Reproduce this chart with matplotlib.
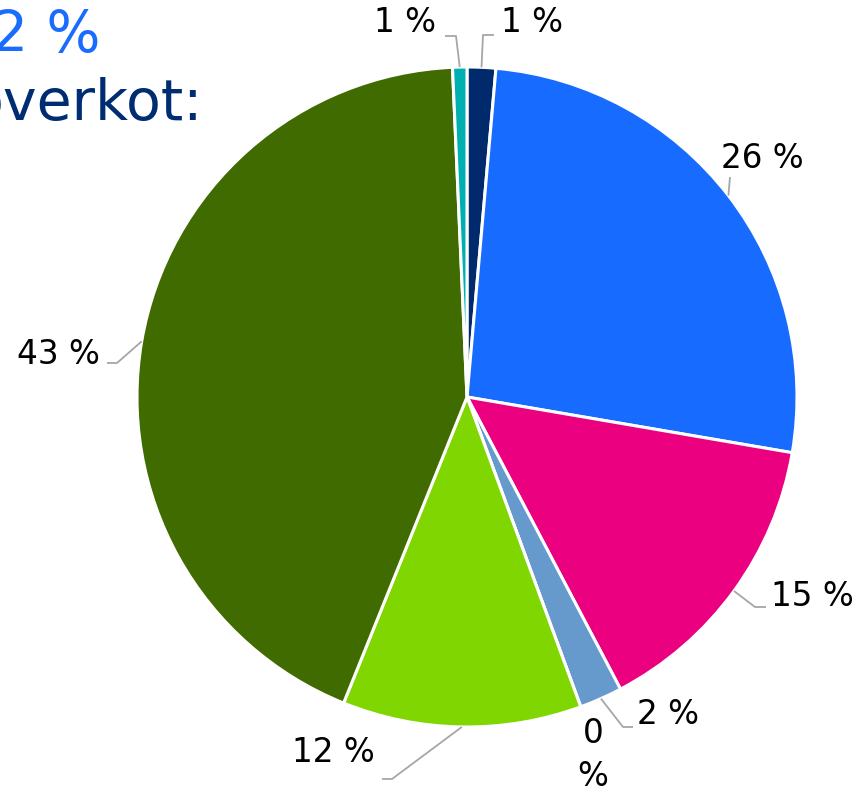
import numpy as np
import matplotlib
matplotlib.use("Agg")
import matplotlib.pyplot as plt

# ---- data ----
values = [1.4, 26.3, 14.6, 2.1, 0.0, 11.7, 43.2, 0.7]
labels = ["1 %", "26 %", "15 %", "2 %", "0\n%", "12 %", "43 %", "1 %"]
colors = ["#002a6c", "#176cff", "#eb0080", "#6699cc", "#d0d0d0",
          "#80d600", "#3f6b00", "#00b0b0"]
title_value = "2 %"
title_text = "overkot:"

# ---- layout (pixels) ----
W, H = 860, 789
CX, CY, R = 467, 397, 330
# label centers
label_pos = [(532, 22), (762, 158), (812, 596), (668, 714), (593, 755),
             (333, 752), (58, 354), (405, 22)]
# leader elbows and ends (None = no leader)
leaders = [((483, 35), (494, 35)), ((730, 177), None), ((755, 607), (766, 607)),
           ((623, 727), (633, 727)), None, ((392, 779), (382, 779)),
           ((117, 363), (107, 363)), ((456, 36), (445, 36))]


def px(p):
    return ((p[0] - CX) / R, (CY - p[1]) / R)


fig = plt.figure(figsize=(W / 100, H / 100), dpi=100)
ax = fig.add_axes([0, 0, 1, 1])
wedges, _ = ax.pie(values, colors=colors, startangle=90, counterclock=False,
                   radius=1.0, center=(0, 0),
                   wedgeprops=dict(edgecolor="white", linewidth=2.2))
ax.set_xlim(-CX / R, (W - CX) / R)
ax.set_ylim(-(H - CY) / R, CY / R)
ax.set_aspect("auto")
ax.axis("off")

for w, lab, lp, ld in zip(wedges, labels, label_pos, leaders):
    mid = np.deg2rad((w.theta1 + w.theta2) / 2)
    sx, sy = np.cos(mid), np.sin(mid)
    tx, ty = px(lp)
    ax.text(tx, ty, lab, ha="center", va="center", fontsize=23.5,
            color="black", linespacing=1.35)
    if ld is not None:
        pts = [(sx, sy), px(ld[0])]
        if ld[1] is not None:
            pts.append(px(ld[1]))
        xs, ys = zip(*pts)
        ax.plot(xs, ys, color="#a6a6a6", lw=1.3, solid_capstyle="butt")

fig.text(100 / W, 1 - 52 / H, title_value, ha="right", va="baseline",
         fontsize=41, color="#1a6cff")
fig.text(203 / W, 1 - 120 / H, title_text, ha="right", va="baseline",
         fontsize=41, color="#002d72")

fig.savefig("out.png", dpi=100)
